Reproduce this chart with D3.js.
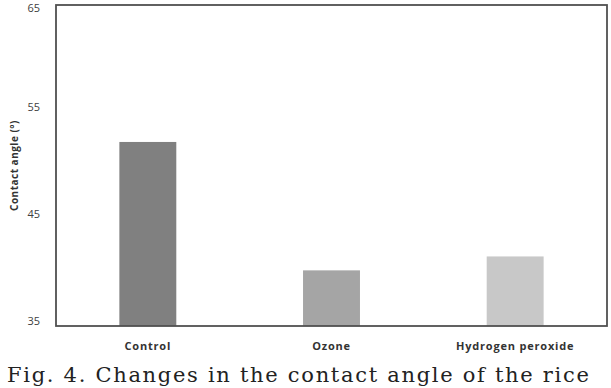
<!DOCTYPE html>
<html>
<head>
<meta charset="utf-8">
<script src="https://cdn.jsdelivr.net/npm/d3@7"></script>
<style>
  body { margin: 0; background: #fff; }
  svg { display: block; }
</style>
</head>
<body>
<svg id="chart" width="611" height="388"></svg>
<script>
const categories = ['Control', 'Ozone', 'Hydrogen peroxide'];
const angles = [52.2, 40.2, 41.5];
const barColors = ['#808080', '#a5a5a5', '#c8c8c8'];
const yTicks = [35, 45, 55, 65];
const yLabel = 'Contact angle (°)';
const caption = 'Fig. 4. Changes in the contact angle of the rice';

const width = 611;
const height = 388;
const margin = { top: 5, right: 4, bottom: 62, left: 56 };

const svg = d3.select('#chart');

const x = d3.scaleBand()
  .domain(categories)
  .range([margin.left, width - margin.right])
  .paddingInner(0.69)
  .paddingOuter(0.345);

const y = d3.scaleLinear()
  .domain([35, 65])
  .range([height - margin.bottom, margin.top]);

// bars
svg.append('g')
  .selectAll('rect')
  .data(categories)
  .join('rect')
  .attr('x', d => x(d))
  .attr('width', x.bandwidth())
  .attr('y', (d, i) => y(angles[i]))
  .attr('height', (d, i) => y(35) - y(angles[i]))
  .attr('fill', (d, i) => barColors[i]);

// plot frame
svg.append('rect')
  .attr('x', margin.left)
  .attr('y', margin.top)
  .attr('width', width - margin.left - margin.right)
  .attr('height', height - margin.top - margin.bottom)
  .attr('fill', 'none')
  .attr('stroke', '#505050')
  .attr('stroke-width', 1.8);

// y axis labels
const yAxis = svg.append('g')
  .attr('transform', `translate(${margin.left},0)`)
  .call(d3.axisLeft(y).tickValues(yTicks).tickSize(0).tickPadding(16));
yAxis.select('.domain').remove();
yAxis.selectAll('text')
  .attr('font-family', '"Open Sans", sans-serif')
  .attr('font-size', 11)
  .attr('fill', '#404040')
  .attr('dy', d => d === 65 ? '0.55em' : '-0.1em');

// x axis labels
const xAxis = svg.append('g')
  .attr('transform', `translate(0,${height - margin.bottom})`)
  .call(d3.axisBottom(x).tickSize(0).tickPadding(16));
xAxis.select('.domain').remove();
xAxis.selectAll('text')
  .attr('font-family', '"Open Sans", sans-serif')
  .attr('font-weight', 'bold')
  .attr('font-size', 11)
  .attr('letter-spacing', 0.8)
  .attr('fill', '#333');

svg.append('text')
  .attr('transform', `translate(18,${(y(65) + y(35)) / 2}) rotate(-90)`)
  .attr('text-anchor', 'middle')
  .attr('font-family', '"Open Sans", sans-serif')
  .attr('font-weight', 'bold')
  .attr('font-size', 10)
  .attr('letter-spacing', 0.5)
  .attr('fill', '#333')
  .text(yLabel);

// figure caption under the chart
svg.append('text')
  .attr('x', 7)
  .attr('y', 382)
  .attr('font-family', '"DejaVu Serif", serif')
  .attr('font-size', 21)
  .attr('letter-spacing', 1.7)
  .attr('fill', '#222')
  .text(caption);
</script>
</body>
</html>
